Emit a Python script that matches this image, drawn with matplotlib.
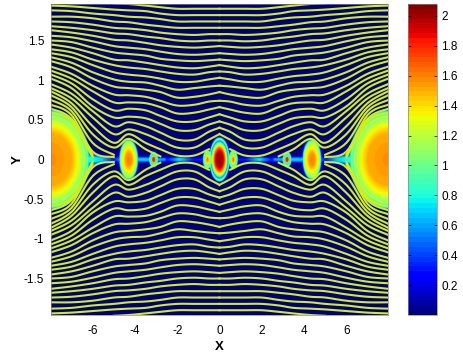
import numpy as np
import matplotlib
matplotlib.use("Agg")
import matplotlib.pyplot as plt

plt.rcParams['font.family'] = ['Liberation Sans', 'DejaVu Sans']

n = np.nan

# stations along x where the line heights were read
line_x = np.array([-7.97, -7, -6, -5, -4.3, -3.5, -2.8, -2, -1.2, -0.5, 0])

# upper left quadrant, the picture repeats it in the other three
line_y = np.array([
    [n, n, n, 1.97, 1.96, 1.94, 1.92, 1.90, 1.90, 1.90, 1.90],
    [1.94, 1.93, 1.91, 1.89, 1.88, 1.87, 1.84, 1.82, 1.82, 1.82, 1.82],
    [1.88, 1.87, 1.84, 1.82, 1.80, 1.79, 1.77, 1.74, 1.74, 1.74, 1.74],
    [1.80, 1.80, 1.78, 1.74, 1.73, 1.70, 1.68, 1.66, 1.66, 1.66, 1.66],
    [1.74, 1.73, 1.70, 1.66, 1.65, 1.63, 1.60, 1.58, 1.57, 1.58, 1.58],
    [1.68, 1.66, 1.63, 1.59, 1.58, 1.55, 1.53, 1.50, 1.49, 1.50, 1.50],
    [1.63, 1.60, 1.56, 1.51, 1.50, 1.47, 1.44, 1.42, 1.41, 1.42, 1.43],
    [1.56, 1.54, 1.49, 1.43, 1.41, 1.39, 1.36, 1.33, 1.32, 1.33, 1.34],
    [1.50, 1.48, 1.41, 1.35, 1.33, 1.31, 1.27, 1.25, 1.24, 1.25, 1.26],
    [1.45, 1.41, 1.34, 1.26, 1.25, 1.22, 1.19, 1.16, 1.15, 1.17, 1.19],
    [1.39, 1.35, 1.26, 1.19, 1.16, 1.14, 1.11, 1.08, 1.07, 1.10, 1.11],
    [1.34, 1.29, 1.19, 1.10, 1.07, 1.05, 1.02, 0.98, 0.98, 1.01, 1.03],
    [1.29, 1.22, 1.10, 1.01, 0.98, 0.97, 0.93, 0.88, 0.90, 0.92, 0.93],
    [1.24, 1.16, 1.02, 0.92, 0.90, 0.88, 0.85, 0.78, 0.79, 0.82, 0.85],
    [1.17, 1.08, 0.93, 0.82, 0.81, 0.79, 0.74, 0.68, 0.69, 0.73, 0.74],
    [1.12, 1.02, 0.86, 0.72, 0.72, 0.71, 0.66, 0.58, 0.59, 0.63, 0.66],
    [1.07, 0.96, 0.76, 0.62, 0.64, 0.62, 0.55, 0.48, 0.48, 0.53, 0.57],
    [1.02, 0.90, 0.67, 0.53, 0.54, 0.52, 0.45, 0.37, 0.37, 0.44, 0.48],
    [0.95, 0.83, 0.61, 0.42, 0.47, 0.42, 0.34, 0.25, 0.25, 0.35, 0.40],
    [0.90, 0.77, 0.53, 0.32, 0.38, 0.32, 0.24, 0.15, 0.15, 0.25, 0.32],
    [0.86, 0.71, 0.42, 0.21, 0.32, 0.21, 0.13, 0.05, 0.05, 0.13, n],
    [0.81, 0.66, 0.32, 0.15, 0.26, 0.13, 0.04, n, n, n, n],
    [0.75, 0.61, 0.21, 0.06, n, n, n, n, n, n, n],
    [0.69, 0.56, 0.10, 0.03, n, n, n, n, n, n, n],
    [0.64, 0.51, 0.06, n, n, n, n, n, n, n, n],
    [0.59, 0.48, 0.03, n, n, n, n, n, n, n, n],
])

# bright spots on the axis: centre, half widths, radial profile of values
big_r = [0, .55, .7, .8, .87, .91, .95, .97, 1.0, 1.04, 1.07]
big_v = [1.58, 1.5, 1.35, 1.22, 1.1, 1.2, .85, 1.15, .9, .5, .04]
mid_r = [0, .35, .6, .8, .95, 1.0, 1.1, 1.2]
mid_v = [1.62, 1.55, 1.35, 1.2, 1.15, .8, .3, .04]
small_r = [0, .35, .5, .7, .95, 1.1, 1.3]
small_v = [1.85, 1.8, 1.0, .7, 1.2, .3, .04]
side_r = [0, .4, .7, .95, 1.1, 1.3]
side_v = [1.7, 1.4, .9, 1.2, .4, .04]
core_r = [0, .4, .55, .68, .8, .9, 1.0, 1.08, 1.15]
core_v = [2.05, 1.95, 1.7, 1.35, 1.05, .5, 1.2, .4, .04]

blobs = [
    (-7.97, 1.75, .60, big_r, big_v), (7.97, 1.75, .60, big_r, big_v),
    (-4.3, .42, .24, mid_r, mid_v), (4.38, .42, .24, mid_r, mid_v),
    (-3.12, .2, .09, small_r, small_v), (3.2, .2, .09, small_r, small_v),
    (-.57, .2, .11, side_r, side_v), (.65, .2, .11, side_r, side_v),
    (0, .45, .26, core_r, core_v),
]

# thin bright band along y=0
neck_x = [0, .8, 1.2, 1.9, 2.5, 2.6, 3.6, 4.7, 5.0, 5.6, 6.5, 8]
neck_v = [.3, .35, .3, .75, .3, .6, .7, .6, .3, .7, .9, .9]
neck_h = [.03, .03, .03, .04, .03, .03, .04, .04, .05, .06, .10, .10]

xticks = [-6, -4, -2, 0, 2, 4, 6]
xticklabels = ['-6', '-4', '-2', '0', '2', '4', '6']
yticks = [-1.5, -1, -0.5, 0, 0.5, 1, 1.5]
yticklabels = ['-1.5', '-1', '-0.5', '0', '0.5', '1', '1.5']
cticks = [0.2, 0.4, 0.6, 0.8, 1, 1.2, 1.4, 1.6, 1.8, 2]
cticklabels = ['0.2', '0.4', '0.6', '0.8', '1', '1.2', '1.4', '1.6', '1.8', '2']


def smooth(x, y, steps=8):
    keep = ~np.isnan(y)
    x, y = x[keep], y[keep]
    p = np.column_stack([x, y])
    p = np.vstack([p[0], p, p[-1]])
    out = []
    for i in range(1, len(p) - 2):
        t = np.linspace(0, 1, steps, endpoint=False)[:, None]
        out.append(0.5 * (2 * p[i] + (p[i + 1] - p[i - 1]) * t
                          + (2 * p[i - 1] - 5 * p[i] + 4 * p[i + 1] - p[i + 2]) * t ** 2
                          + (3 * p[i] - p[i - 1] - 3 * p[i + 1] + p[i + 2]) * t ** 3))
    out.append(p[-2:-1])
    out = np.vstack(out)
    return out[:, 0], out[:, 1]


W, H = 463, 355
fig = plt.figure(figsize=(W / 100, H / 100), dpi=100)
ax = fig.add_axes([51 / W, 1 - 315 / H, 337 / W, 311 / H])
cax = fig.add_axes([408 / W, 1 - 315 / H, 29 / W, 311 / H])

gx, gy = np.meshgrid(np.linspace(-7.97, 7.97, 700), np.linspace(-1.96, 1.96, 620))
field = np.full(gx.shape, 0.02)
h = np.interp(np.abs(gx), neck_x, neck_h)
band = np.interp(np.abs(gx), neck_x, neck_v) * np.clip(1.3 - np.abs(gy) / h, 0, 1)
field = np.maximum(field, band)
for cx, rx, ry, rs, vs in blobs:
    r = np.hypot((gx - cx) / rx, gy / ry)
    field = np.maximum(field, np.interp(r, rs, vs, right=0))

im = ax.imshow(field, extent=[-7.97, 7.97, -1.96, 1.96], origin='lower', aspect='auto',
               cmap=plt.get_cmap('jet', 64), vmin=0, vmax=2.08, interpolation='bilinear')

for row in line_y:
    sx, sy = smooth(line_x, row)
    for a in (-1, 1):
        for b in (-1, 1):
            ax.plot(a * sx, b * sy, color='#d2ee14', lw=1.5, solid_capstyle='projecting')

ax.set_xlim(-7.97, 7.97)
ax.set_ylim(-1.96, 1.96)
ax.set_xticks(xticks)
ax.set_xticklabels(xticklabels)
ax.set_yticks(yticks)
ax.set_yticklabels(yticklabels)
ax.tick_params(length=0, labelsize=8.5)
ax.tick_params(axis='x', pad=7)
ax.tick_params(axis='y', pad=5)
for s in ax.spines.values():
    s.set_linewidth(0.5)
    s.set_color('#888888')
ax.set_xlabel('X', fontweight='bold', fontsize=9.5, labelpad=3)
ax.set_ylabel('Y', fontweight='bold', fontsize=9.5, labelpad=0)

cb = fig.colorbar(im, cax=cax)
cb.set_ticks(cticks)
cb.set_ticklabels(cticklabels)
cb.ax.tick_params(length=2, width=0.5, direction='in', left=True, right=True, labelsize=8.5, pad=3)
cb.outline.set_linewidth(0.5)
cb.outline.set_edgecolor('#888888')

fig.savefig('out.png', dpi=100)
